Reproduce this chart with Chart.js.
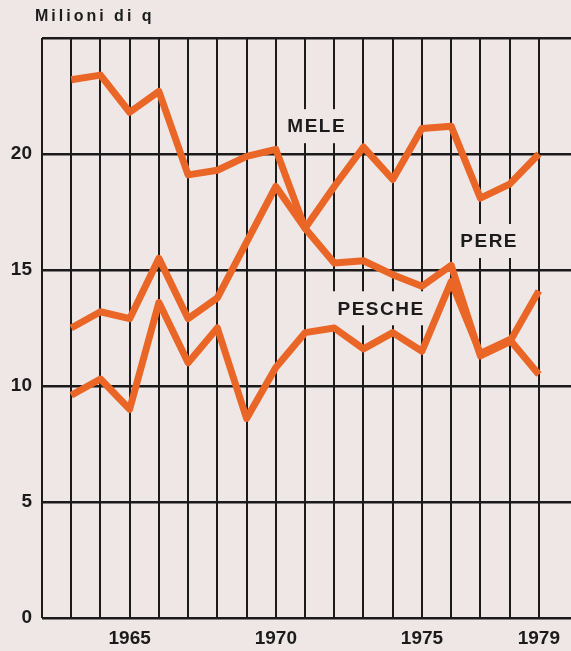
<!DOCTYPE html>
<html>
<head>
<meta charset="utf-8">
<script src="https://cdn.jsdelivr.net/npm/chart.js@4"></script>
<style>
  body { margin: 0; background: #efe7e6; }
  #wrap { width: 571px; height: 651px; }
</style>
</head>
<body>
<div id="wrap"><canvas id="fruitChart"></canvas></div>
<script>
// values (milioni di quintali)
const years = [1963, 1964, 1965, 1966, 1967, 1968, 1969, 1970, 1971, 1972, 1973, 1974, 1975, 1976, 1977, 1978, 1979];
const mele = [23.2, 23.4, 21.8, 22.7, 19.1, 19.3, 19.9, 20.2, 16.8, 18.6, 20.3, 18.9, 21.1, 21.2, 18.1, 18.7, 20.0];
const pere = [12.5, 13.2, 12.9, 15.5, 12.9, 13.8, 16.2, 18.6, 16.8, 15.3, 15.4, 14.8, 14.3, 15.2, 11.3, 11.9, 14.1];
const pesche = [9.6, 10.3, 9.0, 13.6, 11.0, 12.5, 8.6, 10.8, 12.3, 12.5, 11.6, 12.3, 11.5, 14.5, 11.4, 12.0, 10.5];
const yearLabels = [1965, 1970, 1975, 1979];
const yTicks = [0, 5, 10, 15, 20];

const ink = '#1b1b1b';
const orange = 'rgb(234,102,38)';
const paper = '#efe7e6';

// where the series names sit (data coordinates)
const seriesLabels = [
  { text: 'MELE', x: 1971.4, y: 21.2 },
  { text: 'PERE', x: 1977.3, y: 16.25 },
  { text: 'PESCHE', x: 1973.6, y: 13.35 }
];

const toPoints = vals => vals.map((v, i) => ({ x: years[i], y: v }));

const paperPlugin = {
  id: 'paper',
  beforeDraw(chart) {
    const ctx = chart.ctx;
    ctx.save();
    ctx.fillStyle = paper;
    ctx.fillRect(0, 0, chart.width, chart.height);
    ctx.fillStyle = ink;
    ctx.font = 'bold 16px "Liberation Sans", Arial, sans-serif';
    ctx.letterSpacing = '3px';
    ctx.textBaseline = 'middle';
    ctx.fillText('Milioni di q', 35, 17);
    ctx.restore();
  },
  beforeDatasetsDraw(chart) {
    const ctx = chart.ctx;
    const xs = chart.scales.x, ys = chart.scales.y;
    ctx.save();
    ctx.font = 'bold 19px "Liberation Sans", Arial, sans-serif';
    ctx.letterSpacing = '1.5px';
    ctx.textAlign = 'center';
    ctx.textBaseline = 'middle';
    seriesLabels.forEach(l => {
      const px = xs.getPixelForValue(l.x);
      const py = ys.getPixelForValue(l.y);
      const w = ctx.measureText(l.text).width;
      ctx.fillStyle = paper;
      ctx.fillRect(px - w / 2 - 7, py - 17, w + 14, 34);
      ctx.fillStyle = ink;
      ctx.fillText(l.text, px, py + 1);
    });
    ctx.restore();
  }
};

const lineStyle = {
  borderColor: orange,
  borderWidth: 7,
  pointRadius: 0,
  tension: 0,
  borderJoinStyle: 'round',
  fill: false
};

new Chart(document.getElementById('fruitChart'), {
  type: 'line',
  data: {
    datasets: [
      { label: 'MELE', data: toPoints(mele), ...lineStyle },
      { label: 'PERE', data: toPoints(pere), ...lineStyle },
      { label: 'PESCHE', data: toPoints(pesche), ...lineStyle }
    ]
  },
  options: {
    responsive: true,
    maintainAspectRatio: false,
    animation: false,
    layout: { padding: { top: 38, right: 0, left: 0, bottom: 0 } },
    plugins: {
      legend: { display: false },
      tooltip: { enabled: false }
    },
    scales: {
      x: {
        type: 'linear',
        min: 1962,
        max: 1980.1,
        border: { display: false },
        grid: {
          drawTicks: false,
          lineWidth: 2,
          color: c => (Number.isInteger(c.tick.value) && c.tick.value <= 1979) ? ink : 'rgba(0,0,0,0)'
        },
        ticks: {
          stepSize: 1,
          autoSkip: false,
          maxRotation: 0,
          padding: 9,
          color: ink,
          font: { family: '"Liberation Sans", Arial, sans-serif', size: 19, weight: 'bold' },
          callback: v => yearLabels.includes(v) ? String(v) : ''
        },
        afterFit: s => { s.height = 33; s.paddingLeft = 0; s.paddingRight = 0; }
      },
      y: {
        min: 0,
        max: 25,
        border: { display: false },
        grid: { drawTicks: false, lineWidth: 2.5, color: ink },
        ticks: {
          stepSize: 5,
          padding: 10,
          color: ink,
          font: { family: '"Liberation Sans", Arial, sans-serif', size: 19, weight: 'bold' },
          callback: v => yTicks.includes(v) ? String(v) : ''
        },
        afterFit: s => { s.width = 42; s.paddingTop = 0; s.paddingBottom = 0; }
      }
    }
  },
  plugins: [paperPlugin]
});
</script>
</body>
</html>
